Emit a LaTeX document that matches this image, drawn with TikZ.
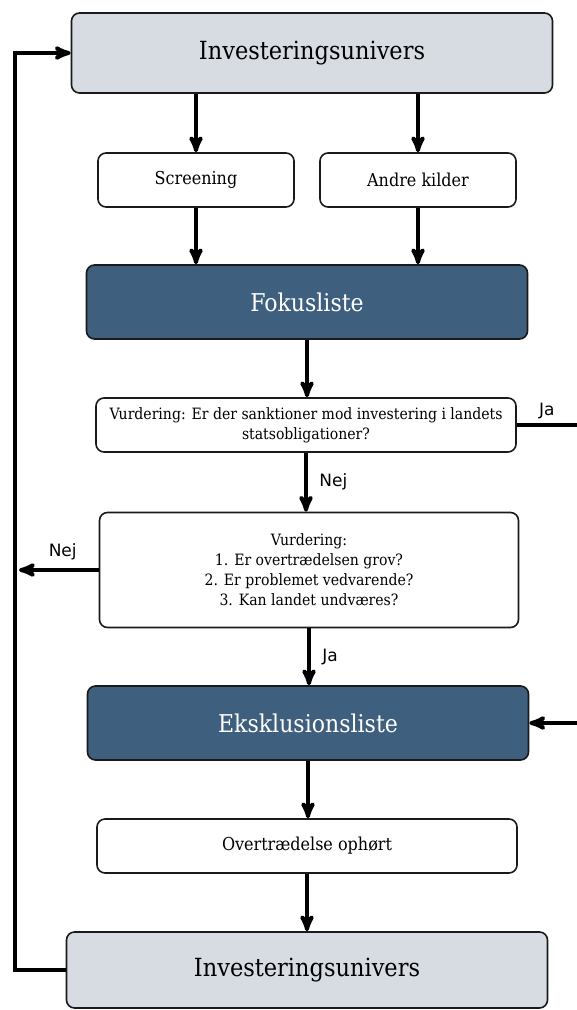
\documentclass[tikz,border=0pt]{standalone}
\usepackage{fontspec}
\setmainfont{DejaVu Serif Condensed}
\newfontfamily\labelfont{DejaVu Sans}
\usetikzlibrary{arrows,positioning}
\definecolor{universgray}{HTML}{D7DCE3}
\definecolor{listblue}{HTML}{3F5F7F}
\definecolor{boxline}{HTML}{1A1A1A}
\tikzset{>=stealth',
	box/.style={draw=boxline, line width=1.6pt, rounded corners=8pt,
		align=center, inner sep=0pt},
	univers/.style={box, fill=universgray, minimum width=481pt,
		font=\fontsize{25}{28}\selectfont},
	liste/.style={box, fill=listblue, text=white, minimum width=441pt,
		minimum height=74pt, font=\fontsize{24.5}{28}\selectfont},
	smallbox/.style={box, fill=white, minimum height=54pt,
		font=\fontsize{15.6}{20}\selectfont},
	onelinebox/.style={smallbox, font=\fontsize{17.8}{20}\selectfont},
	flow/.style={->, line width=4pt},
	answer/.style={font=\labelfont\fontsize{17}{19}\selectfont}}

\begin{document}
\begin{tikzpicture}[x=1pt,y=-1pt]
	\useasboundingbox (0,0) rectangle (577,1010);
	% boxes
	\node[univers, minimum height=80pt] (univtop) at (312,53) {Investeringsunivers};
	\node[onelinebox, minimum width=196pt] (screen) at (196,180) {Screening};
	\node[onelinebox, minimum width=196pt] (andre) at (418,180) {Andre kilder};
	\node[liste] (fokus) at (307,302) {Fokusliste};
	\node[smallbox, minimum width=420pt] (sankt) at (306,425)
		{Vurdering: Er der sanktioner mod investering i landets\\statsobligationer?};
	\node[smallbox, minimum width=419pt, minimum height=115pt] (vurd) at (309,570)
		{Vurdering:\\1. Er overtrædelsen grov?\\2. Er problemet vedvarende?\\3. Kan landet undværes?};
	\node[liste] (ekskl) at (308,723) {Eksklusionsliste};
	\node[onelinebox, minimum width=420pt] (ophoert) at (307,846) {Overtrædelse ophørt};
	\node[univers, minimum height=76pt] (univbot) at (307,970) {Investeringsunivers};
	% return lines
	\coordinate (back) at (15,0);
	\coordinate (aside) at (580,0);
	% arrows
	\draw[flow] (univtop.south -| screen.north) -- (screen.north);
	\draw[flow] (univtop.south -| andre.north) -- (andre.north);
	\draw[flow] (screen.south) -- (screen.south |- fokus.north);
	\draw[flow] (andre.south) -- (andre.south |- fokus.north);
	\draw[flow] (fokus.south) -- (fokus.south |- sankt.north);
	\draw[flow] (sankt.south) -- (sankt.south |- vurd.north)
		node[midway, right=8pt, answer] (nej1) {Nej};
	\draw[flow, shorten >=4pt] (vurd.west) -- (vurd.west -| back)
		node[pos=0.43, above=5pt, answer] (nej2) {Nej};
	\draw[flow] (vurd.south) -- (vurd.south |- ekskl.north)
		node[midway, right=8pt, answer] (ja2) {Ja};
	\draw[flow] (ekskl.south) -- (ekskl.south |- ophoert.north);
	\draw[flow] (ophoert.south) -- (ophoert.south |- univbot.north);
	\draw[flow] (univbot.west) -- (univbot.west -| back) |- (univtop.west);
	\draw[flow] (sankt.east) -- (sankt.east -| aside) |- (ekskl.east);
	\node[answer, above left=3pt and 22pt] (ja1) at (sankt.east -| aside) {Ja};
\end{tikzpicture}
\end{document}
